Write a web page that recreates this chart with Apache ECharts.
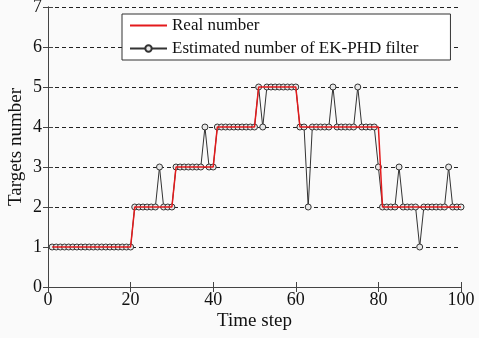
<!DOCTYPE html>
<html>
<head>
<meta charset="utf-8">
<script src="https://cdn.jsdelivr.net/npm/echarts@6/dist/echarts.min.js"></script>
<style>
  html, body { margin: 0; padding: 0; background: #fafafa; }
  #chart { width: 479px; height: 338px; }
</style>
</head>
<body>
<div id="chart"></div>
<script>
// time steps
const timeSteps = [
  1, 2, 3, 4, 5, 6, 7, 8, 9, 10, 11, 12, 13, 14, 15, 16, 17, 18, 19, 20,
  21, 22, 23, 24, 25, 26, 27, 28, 29, 30, 31, 32, 33, 34, 35, 36, 37, 38, 39, 40,
  41, 42, 43, 44, 45, 46, 47, 48, 49, 50, 51, 52, 53, 54, 55, 56, 57, 58, 59, 60,
  61, 62, 63, 64, 65, 66, 67, 68, 69, 70, 71, 72, 73, 74, 75, 76, 77, 78, 79, 80,
  81, 82, 83, 84, 85, 86, 87, 88, 89, 90, 91, 92, 93, 94, 95, 96, 97, 98, 99, 100
];

// real number of targets
const realCount = [
  1, 1, 1, 1, 1, 1, 1, 1, 1, 1, 1, 1, 1, 1, 1, 1, 1, 1, 1, 1,
  2, 2, 2, 2, 2, 2, 2, 2, 2, 2, 3, 3, 3, 3, 3, 3, 3, 3, 3, 3,
  4, 4, 4, 4, 4, 4, 4, 4, 4, 4, 5, 5, 5, 5, 5, 5, 5, 5, 5, 5,
  4, 4, 4, 4, 4, 4, 4, 4, 4, 4, 4, 4, 4, 4, 4, 4, 4, 4, 4, 4,
  2, 2, 2, 2, 2, 2, 2, 2, 2, 2, 2, 2, 2, 2, 2, 2, 2, 2, 2, 2
];

// estimated number (EK-PHD filter)
const estCount = [
  1, 1, 1, 1, 1, 1, 1, 1, 1, 1, 1, 1, 1, 1, 1, 1, 1, 1, 1, 1,
  2, 2, 2, 2, 2, 2, 3, 2, 2, 2, 3, 3, 3, 3, 3, 3, 3, 4, 3, 3,
  4, 4, 4, 4, 4, 4, 4, 4, 4, 4, 5, 4, 5, 5, 5, 5, 5, 5, 5, 5,
  4, 4, 2, 4, 4, 4, 4, 4, 5, 4, 4, 4, 4, 4, 5, 4, 4, 4, 4, 3,
  2, 2, 2, 2, 3, 2, 2, 2, 2, 1, 2, 2, 2, 2, 2, 2, 3, 2, 2, 2
];

const xTicks = [0, 20, 40, 60, 80, 100];
const yTicks = [0, 1, 2, 3, 4, 5, 6, 7];

const font = '"Liberation Serif", "Times New Roman", Times, serif';
const axisColor = '#444';

const chart = echarts.init(document.getElementById('chart'), null, { renderer: 'canvas' });

chart.setOption({
  backgroundColor: '#fafafa',
  animation: false,
  textStyle: { fontFamily: font },
  grid: { left: 48, right: 18, top: 7, bottom: 51, outerBoundsMode: 'none', containLabel: false },
  legend: {
    left: 122,
    top: 14,
    orient: 'vertical',
    backgroundColor: '#ffffff',
    borderColor: '#333',
    borderWidth: 1,
    borderRadius: 0,
    padding: [3, 32, 3, 7],
    itemWidth: 37,
    itemHeight: 8,
    itemGap: 6,
    textStyle: { fontFamily: font, fontSize: 17, color: '#111' },
    data: [
      { name: 'Real number', itemStyle: { opacity: 0 } },
      { name: 'Estimated number of EK-PHD filter' }
    ]
  },
  xAxis: [
    {
      type: 'value',
      min: xTicks[0],
      max: xTicks[xTicks.length - 1],
      interval: 20,
      name: 'Time step',
      nameLocation: 'middle',
      nameGap: 25,
      nameMoveOverlap: false,
      nameTextStyle: { fontFamily: font, fontSize: 19, color: '#111' },
      axisLine: { lineStyle: { color: axisColor, width: 1 } },
      axisTick: { inside: true, length: 5, lineStyle: { color: axisColor } },
      axisLabel: { fontFamily: font, fontSize: 18, color: '#111', margin: 4 },
      splitLine: { show: false }
    },
    {
      type: 'value',
      position: 'top',
      min: xTicks[0],
      max: xTicks[xTicks.length - 1],
      interval: 20,
      axisLine: { lineStyle: { color: axisColor, width: 1 } },
      axisTick: { inside: true, length: 5, lineStyle: { color: axisColor } },
      axisLabel: { show: false },
      splitLine: { show: false }
    }
  ],
  yAxis: [
    {
      type: 'value',
      min: yTicks[0],
      max: yTicks[yTicks.length - 1],
      interval: 1,
      name: 'Targets number',
      nameLocation: 'middle',
      nameGap: 22,
      nameMoveOverlap: false,
      nameTextStyle: { fontFamily: font, fontSize: 19, color: '#111' },
      axisLine: { show: true, lineStyle: { color: axisColor, width: 1 } },
      axisTick: { show: true, inside: true, length: 5, lineStyle: { color: axisColor } },
      axisLabel: { fontFamily: font, fontSize: 18, color: '#111', margin: 6 },
      splitLine: {
        show: true,
        lineStyle: { color: '#222', type: [4, 3], width: 1 }
      }
    },
    {
      type: 'value',
      position: 'right',
      min: yTicks[0],
      max: yTicks[yTicks.length - 1],
      interval: 1,
      axisLine: { show: true, lineStyle: { color: axisColor, width: 1 } },
      axisTick: { show: true, inside: true, length: 5, lineStyle: { color: axisColor } },
      axisLabel: { show: false },
      splitLine: { show: false }
    }
  ],
  series: [
    {
      name: 'Estimated number of EK-PHD filter',
      type: 'line',
      data: timeSteps.map((t, i) => [t, estCount[i]]),
      symbol: 'circle',
      symbolSize: 6,
      showAllSymbol: true,
      lineStyle: { color: '#333', width: 1 },
      itemStyle: { color: '#e8e8e8', borderColor: '#333', borderWidth: 1 },
      z: 2
    },
    {
      name: 'Real number',
      type: 'line',
      data: timeSteps.map((t, i) => [t, realCount[i]]),
      symbol: 'none',
      lineStyle: { color: '#e41a1c', width: 1.5 },
      itemStyle: { color: '#e41a1c' },
      z: 3
    }
  ]
});
</script>
</body>
</html>
